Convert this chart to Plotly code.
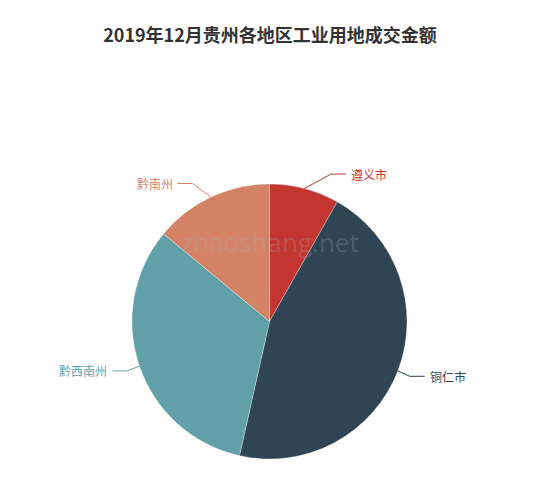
import numpy as np
import plotly.graph_objects as go

# 各地区占比
regions = ["遵义市", "铜仁市", "黔西南州", "黔南州"]
values = [8.2, 45.3, 32.5, 14.0]
colors = ["#c23531", "#2f4554", "#61a0a8", "#d48265"]

W, H = 550, 490
off = 8                           # page body margin
cx, cy, R = 269.5 - off, 321.5 - off, 137.5   # pie centre / radius in px
len1, len2 = 15, 15               # leader line segments

fig = go.Figure(go.Pie(
    labels=regions,
    values=values,
    sort=False,
    direction="clockwise",
    rotation=0,
    textinfo="none",
    hoverinfo="label+value+percent",
    marker=dict(colors=colors, line=dict(color="rgba(255,255,255,0.5)", width=0.6)),
    domain=dict(x=[(cx - R) / W, (cx + R) / W], y=[(H - cy - R) / H, (H - cy + R) / H]),
    showlegend=False,
))

def paper(x, y):
    return x / W, 1 - y / H

# 引导线和标签：角度由数据算出，横向位置按 echarts 的方式贴着外圈
total = sum(values)
start = 0.0
for name, v, c in zip(regions, values, colors):
    mid = np.radians((start + v / 2) / total * 360)
    start += v
    sx, sy = np.sin(mid), -np.cos(mid)
    side = 1 if sx >= 0 else -1
    x1, y1 = cx + R * sx, cy + R * sy
    ly = cy + (R + len1) * sy
    dy = abs(ly - cy)
    if dy < R + len1:
        dx = np.sqrt((R + len1 + len2) ** 2 - dy ** 2)
    else:
        dx = abs((R + len1) * sx) + len2
    tx = cx + side * dx
    x3 = tx - side * 3
    x2 = x3 - side * len2
    p1, p2, p3 = paper(x1, y1), paper(x2, ly), paper(x3, ly)
    fig.add_shape(type="path", xref="paper", yref="paper",
                  path=f"M {p1[0]},{p1[1]} L {p2[0]},{p2[1]} L {p3[0]},{p3[1]}",
                  line=dict(color=c, width=1))
    fig.add_annotation(x=tx / W, y=p3[1], xref="paper", yref="paper",
                       text=name, showarrow=False,
                       xanchor="left" if side > 0 else "right", yanchor="middle",
                       font=dict(size=12, color=c, family="Noto Sans CJK SC"))

# 水印
fig.add_annotation(x=(270 - off) / W, y=1 - (242 - off) / H, xref="paper", yref="paper",
                   text="zhaoshang.net", showarrow=False,
                   font=dict(size=26, color="rgba(170,170,170,0.25)", family="Open Sans"))

fig.update_layout(
    width=W, height=H,
    margin=dict(l=0, r=0, t=0, b=0),
    paper_bgcolor="white",
    title=dict(text="<b>2019年12月贵州各地区工业用地成交金额</b>", x=(270 - off) / W, xanchor="center",
               y=1 - (36 - off) / H, yanchor="middle",
               font=dict(size=18, color="#333333", family="Noto Sans CJK SC")),
)

fig.write_html("out.html")
